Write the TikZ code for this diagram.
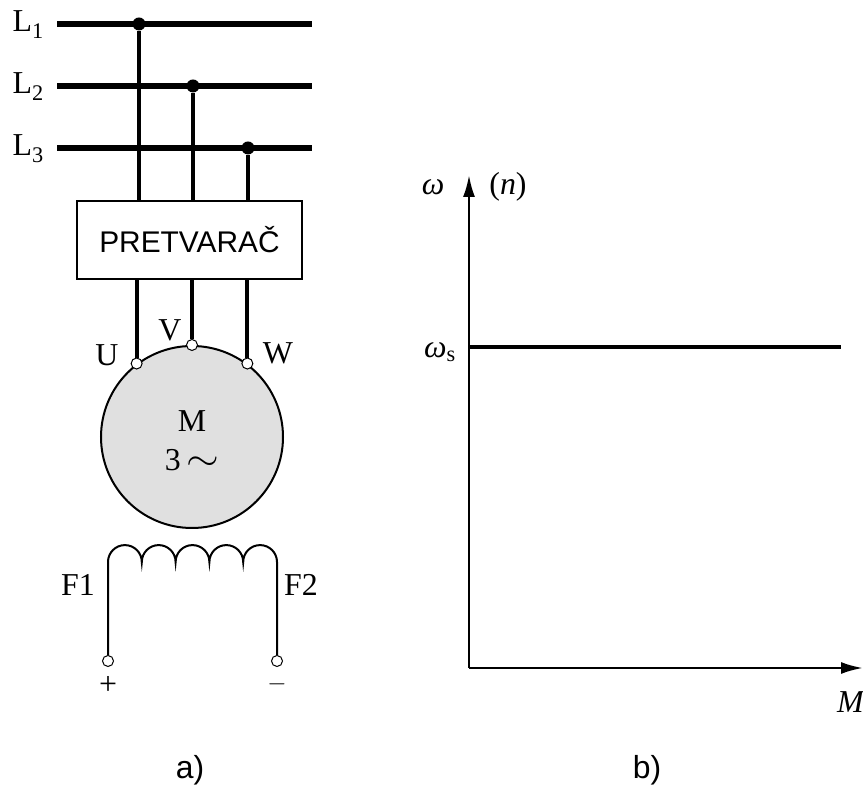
\documentclass[tikz,border=0pt]{standalone}
\usepackage{fontspec}
\setmainfont{Liberation Serif}
\setsansfont{Liberation Sans}
\usetikzlibrary{shapes,arrows,arrows.meta,positioning}
\tikzstyle{block} = [rectangle, draw, line width=1.5bp, minimum width=225bp, minimum height=78bp,
    font=\sffamily\fontsize{30}{34}\selectfont]
\tikzstyle{line} = [draw, line width=4bp]
\tikzstyle{bus} = [draw, line width=5.5bp]
\tikzstyle{wire} = [draw, line width=2bp]
\tikzstyle{dot} = [circle, fill, inner sep=0pt, minimum size=13bp]
\tikzstyle{term} = [circle, draw, fill=white, line width=1bp, inner sep=0pt, minimum size=11bp]
\tikzstyle{motor} = [circle, draw, line width=2bp, fill=black!12, minimum size=182bp, inner sep=0pt]
\tikzstyle{lbl} = [inner sep=0pt, font=\fontsize{32}{36}\selectfont]
\tikzstyle{axis} = [draw, line width=2.5bp, -{Latex[length=22bp,width=12bp]}]
\tikzstyle{sublbl} = [inner sep=0pt, font=\sffamily\fontsize{32}{36}\selectfont]

\begin{document}
\begin{tikzpicture}[x=1bp, y=1bp]
    \useasboundingbox (0,0) rectangle (863,789);
    % Place nodes
    \node [lbl, anchor=base east] (l1) at (44,757) {L\textsubscript{1}};
    \node [lbl, anchor=base east] (l2) at (44,695) {L\textsubscript{2}};
    \node [lbl, anchor=base east] (l3) at (44,633) {L\textsubscript{3}};
    \coordinate (b1a) at (57,765);  \coordinate (b1b) at (312,765);
    \coordinate (b2a) at (57,703);  \coordinate (b2b) at (312,703);
    \coordinate (b3a) at (57,641);  \coordinate (b3b) at (312,641);
    \node [block] (conv) at (189.5,549) {PRETVARAČ};
    \node [motor] (mot) at (192,352) {};
    \node [lbl, align=center, font=\fontsize{32}{39}\selectfont] (m) at (192,348)
        {M\\3\,\scalebox{1.7}[1.5]{$\sim$}};
    \node [lbl] (u) at (107,434) {U};
    \node [lbl] (v) at (170,459) {V};
    \node [lbl] (w) at (278,436) {W};
    \coordinate (c1) at (108,227);
    \node [term] (f1t) at (108,128) {};
    \node [term] (f2t) at (277,128) {};
    \node [lbl] (f1) at (78,204) {F1};
    \node [lbl] (f2) at (301,204) {F2};
    \node [lbl] (plus) at (108,104) {+};
    \node [lbl] (minus) at (277,105) {$-$};

    % Draw edges
    \path [bus] (b1a) -- (b1b);
    \path [bus] (b2a) -- (b2b);
    \path [bus] (b3a) -- (b3b);
    \node [dot] (d1) at (139,765) {};
    \node [dot] (d2) at (193,703) {};
    \node [dot] (d3) at (248,641) {};
    \path [line] (d1) -- (d1 |- conv.north);
    \path [line] (d2) -- (d2 |- conv.north);
    \path [line] (d3) -- (d3 |- conv.north);
    \node [term] (tu) at (mot.127) {};
    \node [term] (tv) at (mot.90) {};
    \node [term] (tw) at (mot.53) {};
    \path [line] (tu |- conv.south) -- (tu);
    \path [line] (tv |- conv.south) -- (tv);
    \path [line] (tw |- conv.south) -- (tw);
    \path [wire] (f1t) -- (c1) \foreach \k in {1,...,5}{ arc[start angle=180, end angle=0, radius=16.9] } -- (f2t);

    % Graph
    \coordinate (o) at (469,121);
    \coordinate (ytop) at (469,614);
    \coordinate (xend) at (863,121);
    \coordinate (ws) at (469,442);
    \coordinate (wsend) at (841,442);
    \path [axis] (o) -- (ytop);
    \path [axis] (o) -- (xend);
    \path [line] (ws) -- (wsend);
    \node [lbl, anchor=base] (om) at (433,594) {\itshape ω};
    \node [lbl, anchor=base] (n) at (508,594) {(\textit{n})};
    \node [lbl, anchor=base east] (oms) at (456,431) {\itshape ω\textsubscript{\upshape s}};
    \node [lbl, anchor=west] (mm) at (837,87) {\textit{M}};

    \node [sublbl] (capa) at (190,19) {a)};
    \node [sublbl] (capb) at (647,19) {b)};
\end{tikzpicture}
\end{document}
